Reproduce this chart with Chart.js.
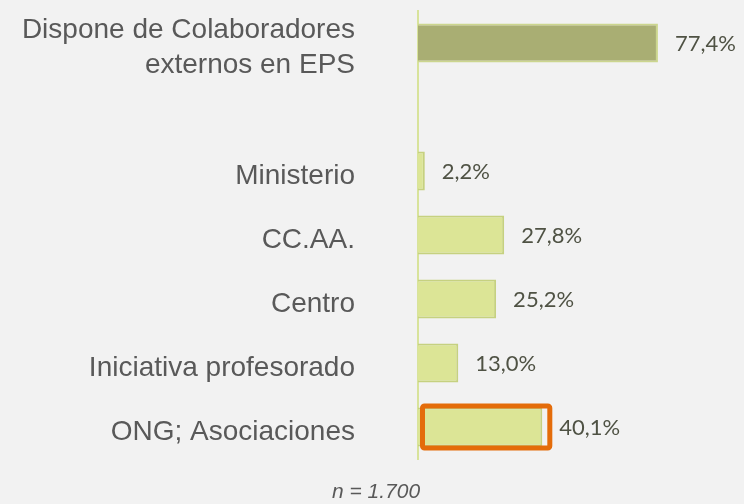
<!DOCTYPE html>
<html>
<head>
<meta charset="utf-8">
<script src="https://cdn.jsdelivr.net/npm/chart.js@4.4.1/dist/chart.umd.min.js"></script>
<style>
  html, body { margin: 0; padding: 0; background: #f2f2f2; }
  #wrap { width: 744px; height: 504px; }
</style>
</head>
<body>
<div id="wrap"><canvas id="chart" width="744" height="504"></canvas></div>
<script>
// categories (empty one is the gap under the first bar)
const categories = [
  ['Dispone de Colaboradores', 'externos en EPS'],
  '',
  'Ministerio',
  'CC.AA.',
  'Centro',
  'Iniciativa profesorado',
  'ONG; Asociaciones'
];
const values = [77.4, null, 2.2, 27.8, 25.2, 13.0, 40.1];
const valueLabels = ['77,4%', '', '2,2%', '27,8%', '25,2%', '13,0%', '40,1%'];
const highlightIndex = 6;
const footnote = 'n = 1.700';

const fills = values.map((v, i) => i === 0 ? '#a9ae73' : '#dce596');
const borders = values.map((v, i) => i === 0 ? '#ccd68e' : '#c6d180');

// value labels + orange box + n footnote
const extras = {
  id: 'extras',
  afterDatasetsDraw(chart) {
    const ctx = chart.ctx;
    const meta = chart.getDatasetMeta(0);
    ctx.save();
    ctx.font = '22px Lato';
    ctx.fillStyle = '#4f5244';
    ctx.textBaseline = 'middle';
    ctx.textAlign = 'left';
    meta.data.forEach((bar, i) => {
      if (values[i] == null) return;
      ctx.fillText(valueLabels[i], bar.x + 17, bar.y + 1);
    });

    const hb = meta.data[highlightIndex];
    ctx.strokeStyle = '#e46c0a';
    ctx.lineWidth = 5;
    ctx.beginPath();
    ctx.roundRect(hb.base + 4.5, hb.y - hb.height / 2 - 1.5, hb.x - hb.base + 3, hb.height + 3, 2);
    ctx.stroke();

    ctx.font = 'italic 21px "Liberation Sans"';
    ctx.fillStyle = '#595959';
    ctx.textAlign = 'center';
    ctx.fillText(footnote, 376, 492);
    ctx.restore();
  }
};

new Chart(document.getElementById('chart'), {
  type: 'bar',
  data: {
    labels: categories,
    datasets: [{
      data: values,
      backgroundColor: fills,
      borderColor: borders,
      borderWidth: 2,
      borderSkipped: 'start',
      barPercentage: 0.61,
      categoryPercentage: 1
    }]
  },
  options: {
    indexAxis: 'y',
    responsive: false,
    animation: false,
    layout: { padding: { top: 11, bottom: 45, right: 16, left: 0 } },
    plugins: { legend: { display: false }, tooltip: { enabled: false } },
    scales: {
      x: { display: false, min: 0, max: 100 },
      y: {
        grid: { display: false, drawTicks: false },
        border: { display: true, color: '#d8e39b', width: 2 },
        ticks: {
          autoSkip: false,
          padding: 63,
          labelOffset: 5,
          color: '#595959',
          font: { family: '"Liberation Sans"', size: 28, lineHeight: 1.25 }
        },
        afterFit(axis) {
          axis.width = 418;
          axis.paddingTop = 0;
          axis.paddingBottom = 0;
        }
      }
    }
  },
  plugins: [extras]
});
</script>
</body>
</html>
